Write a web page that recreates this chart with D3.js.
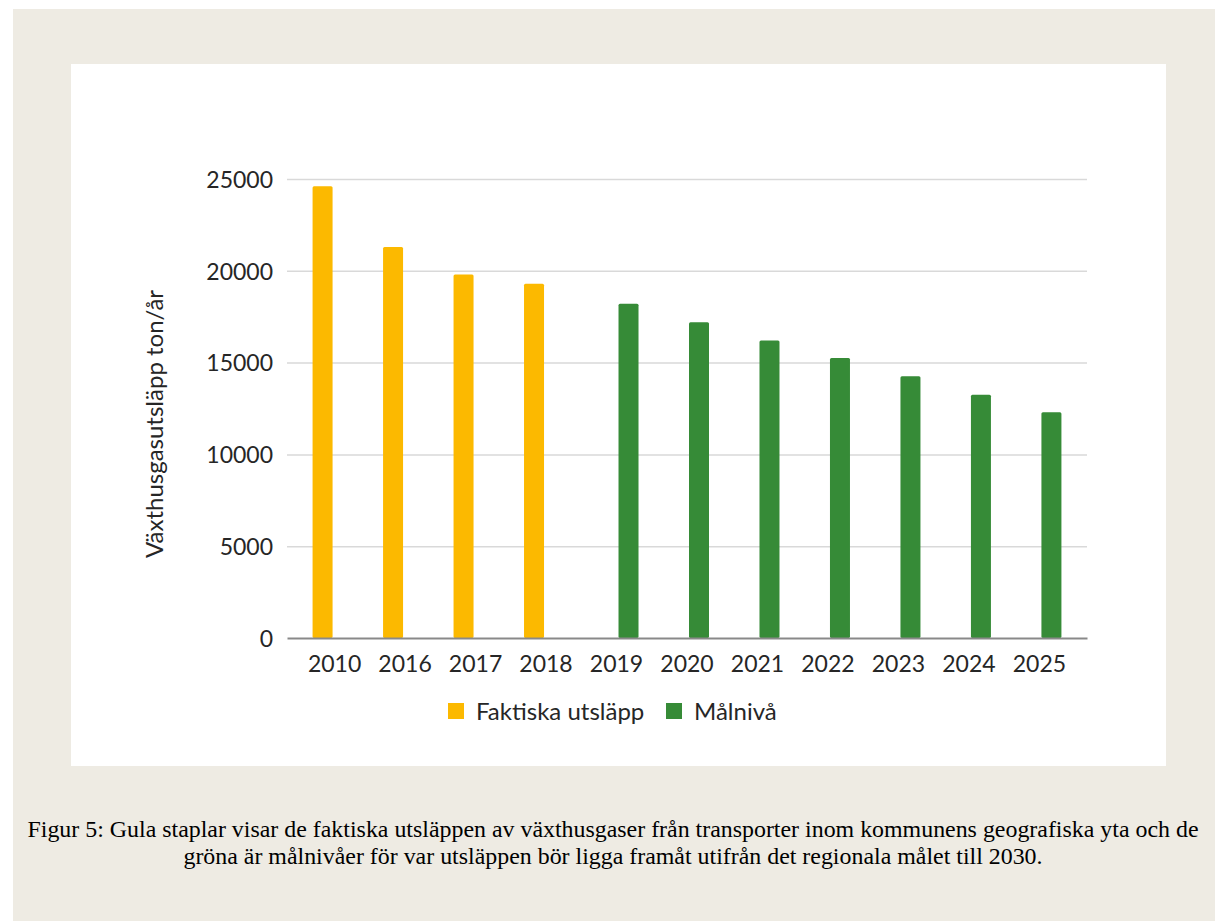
<!DOCTYPE html>
<html><head><meta charset="utf-8">
<script src="https://cdn.jsdelivr.net/npm/d3@7"></script>
<style>html,body{margin:0;padding:0;background:#fff;}svg{display:block;}</style>
</head><body>
<svg id="c" width="1215" height="921"></svg>
<script>
const categories = ["2010","2016","2017","2018","2019","2020","2021","2022","2023","2024","2025"];
const actual = [24600,21300,19800,19300,null,null,null,null,null,null,null];
const target = [null,null,null,null,18200,17200,16200,15250,14250,13250,12300];
const seriesNames = ["Faktiska utsläpp","Målnivå"];
const seriesColors = ["#FCB900","#368B37"];
const yTicks = [0,5000,10000,15000,20000,25000];
const yLabel = "Växthusgasutsläpp ton/år";
const captionLines = ["Figur 5: Gula staplar visar de faktiska utsläppen av växthusgaser från transporter inom kommunens geografiska yta och de","gröna är målnivåer för var utsläppen bör ligga framåt utifrån det regionala målet till 2030."];

const svg = d3.select("#c");
const font = "Lato, 'Open Sans', sans-serif";
const textCol = "#262626";

svg.append("rect").attr("x",0).attr("y",0).attr("width",1215).attr("height",921).attr("fill","#fff");
svg.append("rect").attr("x",13).attr("y",9).attr("width",1202).attr("height",912).attr("fill","#EEEBE3");
svg.append("rect").attr("x",71).attr("y",64).attr("width",1095).attr("height",702).attr("fill","#fff");

const x0 = d3.scaleBand().domain(categories).range([287,1087]).paddingOuter(0.175).paddingInner(0);
const x1 = d3.scaleBand().domain(seriesNames).range([0,44]).paddingInner(1/6).paddingOuter(0);
const y = d3.scaleLinear().domain([0,25000]).range([638,179]);

// gridlines
const grid = svg.append("g").attr("transform","translate(287,0)")
  .call(d3.axisLeft(y).tickValues(yTicks.filter(d=>d>0)).tickSize(-800).tickFormat(""));
grid.select(".domain").remove();
grid.selectAll("line").attr("stroke","#D9D9D9").attr("stroke-width",1.5);

// y axis labels
const ya = svg.append("g").attr("transform","translate(287,0)")
  .call(d3.axisLeft(y).tickValues(yTicks).tickSize(0).tickPadding(14).tickFormat(d3.format("d")));
ya.select(".domain").remove();
ya.selectAll("text").attr("font-family",font).attr("font-size",23).attr("fill",textCol).attr("dy","0.36em");

// bars
const data = [];
categories.forEach((c,i)=>{
  if(actual[i]!=null) data.push({c, s:seriesNames[0], v:actual[i], col:seriesColors[0]});
  if(target[i]!=null) data.push({c, s:seriesNames[1], v:target[i], col:seriesColors[1]});
});
svg.append("g").selectAll("rect").data(data).join("rect")
  .attr("x", d=>x0(d.c)+x0.bandwidth()/2-22+x1(d.s))
  .attr("width", x1.bandwidth())
  .attr("y", d=>y(d.v))
  .attr("height", d=>y(0)-y(d.v))
  .attr("rx",1.5)
  .attr("fill", d=>d.col);

// x axis
const xa = svg.append("g").attr("transform","translate(0,638)")
  .call(d3.axisBottom(x0).tickSize(0).tickPadding(18));
xa.select(".domain").attr("stroke","#898989").attr("stroke-width",2);
xa.selectAll("text").attr("font-family",font).attr("font-size",23).attr("fill",textCol);

// y label
svg.append("text").attr("transform","translate(163,424) rotate(-90)")
  .attr("text-anchor","middle").attr("font-family",font).attr("font-size",24).attr("fill",textCol)
  .text(yLabel);

// legend
const legX = [448,666];
const leg = svg.append("g");
seriesNames.forEach((s,i)=>{
  leg.append("rect").attr("x",legX[i]).attr("y",703).attr("width",16).attr("height",16).attr("fill",seriesColors[i]);
  leg.append("text").attr("x",legX[i]+28).attr("y",720).attr("font-family",font).attr("font-size",24).attr("fill",textCol).text(s);
});

// caption
const cap = svg.append("g");
captionLines.forEach((t,i)=>{
  cap.append("text").attr("x",613).attr("y",837+i*26.5).attr("text-anchor","middle")
    .attr("font-family","'Liberation Serif','Times New Roman',serif").attr("font-size",23.9).attr("fill","#000").text(t);
});
</script>
</body></html>
